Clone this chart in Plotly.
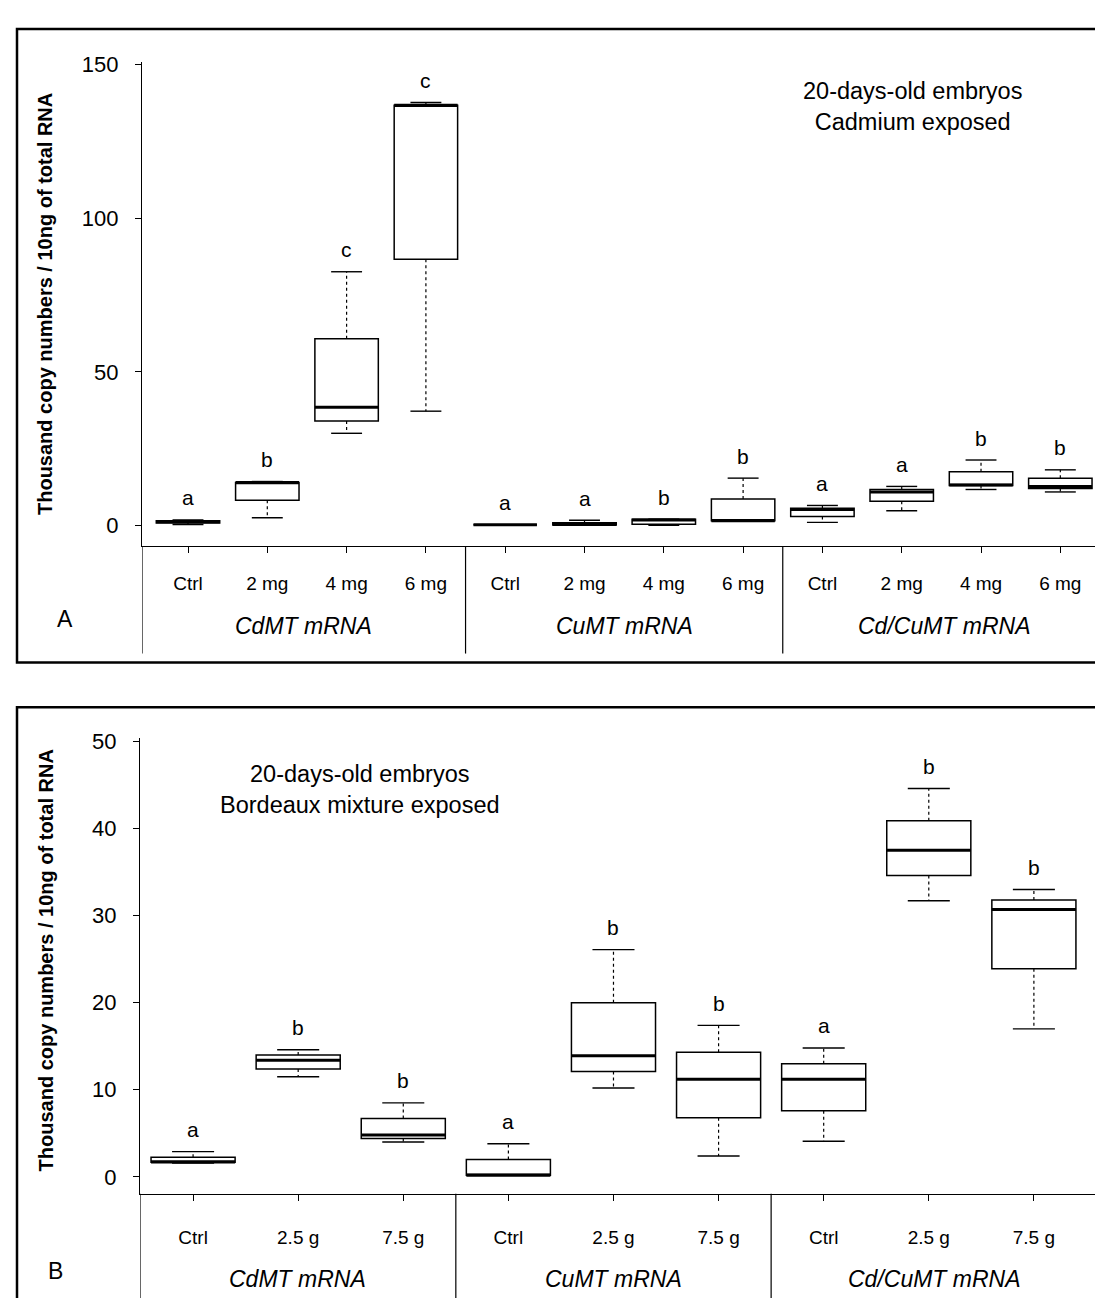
import plotly.graph_objects as go

# Panel A: cadmium exposure, 12 boxes (3 genes x 4 doses)
doses_a = ["Ctrl", "2 mg", "4 mg", "6 mg"] * 3
low_a = [0.3, 2.5, 30.0, 37.2, 0.2, 0.1, 0.0, 1.5, 1.0, 4.8, 11.7, 10.9]
q1_a = [0.8, 8.2, 34.0, 86.7, 0.2, 0.1, 0.4, 1.5, 2.9, 7.9, 13.0, 12.0]
med_a = [1.2, 14.0, 38.5, 136.8, 0.2, 0.3, 1.8, 1.5, 5.2, 10.9, 13.2, 12.7]
q3_a = [1.5, 14.0, 60.8, 136.8, 0.2, 0.9, 2.0, 8.6, 5.6, 11.7, 17.5, 15.4]
high_a = [1.8, 14.3, 82.6, 137.7, 0.2, 1.7, 2.0, 15.4, 6.5, 12.7, 21.3, 18.1]
letters_a = ["a", "b", "c", "c", "a", "a", "b", "b", "a", "a", "b", "b"]

# Panel B: Bordeaux mixture exposure, 9 boxes (3 genes x 3 doses)
doses_b = ["Ctrl", "2.5 g", "7.5 g"] * 3
low_b = [1.6, 11.5, 4.0, 0.2, 10.2, 2.4, 4.1, 31.7, 17.0]
q1_b = [1.67, 12.4, 4.4, 0.2, 12.1, 6.8, 7.6, 34.6, 23.9]
med_b = [1.7, 13.4, 4.8, 0.2, 13.9, 11.2, 11.2, 37.5, 30.7]
q3_b = [2.25, 14.0, 6.7, 2.0, 20.0, 14.3, 13.0, 40.9, 31.8]
high_b = [2.9, 14.6, 8.5, 3.8, 26.1, 17.4, 14.8, 44.6, 33.0]
letters_b = ["a", "b", "b", "a", "b", "b", "a", "b", "b"]

genes = ["CdMT mRNA", "CuMT mRNA", "Cd/CuMT mRNA"]

W, H = 1103, 1298
FONT = "Liberation Sans, Arial, sans-serif"


def px_x(p):
    return p / W


def px_y(p):
    return 1 - p / H


fig = go.Figure()


def add_panel(xa, ya, low, q1, med, q3, high, letters, cap, halfbox):
    n = len(med)
    xs = list(range(n))
    fig.add_trace(go.Box(
        x=xs, q1=q1, median=med, q3=q3, lowerfence=q1, upperfence=q3,
        width=halfbox * 2, whiskerwidth=0, fillcolor="white",
        line=dict(color="black", width=1.5), boxpoints=False,
        xaxis=xa, yaxis=ya, showlegend=False, hoverinfo="skip"))
    wx, wy, cx, cy, mx, my = [], [], [], [], [], []
    for i in xs:
        wx += [i, i, None, i, i, None]
        wy += [q3[i], high[i], None, q1[i], low[i], None]
        cx += [i - cap, i + cap, None, i - cap, i + cap, None]
        cy += [high[i], high[i], None, low[i], low[i], None]
        mx += [i - halfbox, i + halfbox, None]
        my += [med[i], med[i], None]
    fig.add_trace(go.Scatter(x=wx, y=wy, mode="lines", xaxis=xa, yaxis=ya,
                             line=dict(color="black", width=1.2, dash="dot"),
                             showlegend=False, hoverinfo="skip"))
    fig.add_trace(go.Scatter(x=cx, y=cy, mode="lines", xaxis=xa, yaxis=ya,
                             line=dict(color="black", width=1.4),
                             showlegend=False, hoverinfo="skip"))
    fig.add_trace(go.Scatter(x=mx, y=my, mode="lines", xaxis=xa, yaxis=ya,
                             line=dict(color="black", width=3),
                             showlegend=False, hoverinfo="skip"))
    for i in xs:
        fig.add_annotation(x=i, y=high[i], xref=xa, yref=ya, text=letters[i],
                           showarrow=False, yanchor="middle", yshift=22,
                           font=dict(size=21, family=FONT, color="black"))


add_panel("x", "y", low_a, q1_a, med_a, q3_a, high_a, letters_a, 0.195, 0.4)
add_panel("x2", "y2", low_b, q1_b, med_b, q3_b, high_b, letters_b, 0.2, 0.4)

xr_a = [-0.58, 11.576]
xr_b = [-0.505, 8.61]

axis_common = dict(showline=True, linecolor="black", linewidth=1.2,
                   showgrid=False, zeroline=False, ticks="outside",
                   ticklen=6, tickcolor="black")

fig.update_layout(
    width=W, height=H, margin=dict(l=0, r=0, t=0, b=0),
    paper_bgcolor="white", plot_bgcolor="white",
    font=dict(family=FONT, color="black"),
    xaxis=dict(domain=[px_x(134), px_x(1098)], range=xr_a, anchor="y",
               tickvals=list(range(12)), ticktext=doses_a,
               tickfont=dict(size=19), ticklabelstandoff=14, **axis_common),
    yaxis=dict(domain=[px_y(533), px_y(45)], range=[-6.8, 151], anchor="x",
               tickvals=[0, 50, 100, 150], tickfont=dict(size=22),
               ticklabelstandoff=12, **axis_common),
    xaxis2=dict(domain=[px_x(132), px_x(1090)], range=xr_b, anchor="y2",
                tickvals=list(range(9)), ticktext=doses_b,
                tickfont=dict(size=19), ticklabelstandoff=20, **axis_common),
    yaxis2=dict(domain=[px_y(1185), px_y(726)], range=[-1.94, 50.4], anchor="x2",
                tickvals=[0, 10, 20, 30, 40, 50], tickfont=dict(size=22),
                ticklabelstandoff=12, **axis_common),
)

# frames around each panel
fig.add_shape(type="rect", xref="paper", yref="paper",
              x0=px_x(9), x1=px_x(1101), y0=px_y(650), y1=px_y(12),
              line=dict(color="black", width=2.5))
fig.add_shape(type="rect", xref="paper", yref="paper",
              x0=px_x(9), x1=px_x(1101), y0=-0.05, y1=px_y(695),
              line=dict(color="black", width=2.5))

# table-like vertical separators below the x axes
for xv in [xr_a[0], 3.5, 7.5, xr_a[1]]:
    fig.add_shape(type="line", xref="x", yref="paper", x0=xv, x1=xv,
                  y0=px_y(641), y1=px_y(533), line=dict(color="black", width=1.2))
for xv in [xr_b[0], 2.5, 5.5, xr_b[1]]:
    fig.add_shape(type="line", xref="x2", yref="paper", x0=xv, x1=xv,
                  y0=px_y(1293), y1=px_y(1185), line=dict(color="black", width=1.2))


def label(x, y, text, size, xref="paper", angle=0):
    fig.add_annotation(x=x, y=y, xref=xref, yref="paper", text=text,
                       textangle=angle, showarrow=False, align="center",
                       xanchor="center", yanchor="middle",
                       font=dict(size=size, family=FONT, color="black"))


# gene group labels
grp_a = [(xr_a[0] + 3.5) / 2, 5.5, (7.5 + xr_a[1]) / 2]
grp_b = [(xr_b[0] + 2.5) / 2, 4.0, (5.5 + xr_b[1]) / 2]
for g, xv in zip(genes, grp_a):
    label(xv, px_y(613), f"<i>{g}</i>", 23, xref="x")
for g, xv in zip(genes, grp_b):
    label(xv, px_y(1271), f"<i>{g}</i>", 23, xref="x2")

ytitle = "<b>Thousand copy numbers / 10ng of total RNA</b>"
label(px_x(37), px_y(289), ytitle, 20, angle=-90)
label(px_x(38), px_y(950), ytitle, 20, angle=-90)

label(px_x(57), px_y(606), "A", 23)
label(px_x(47), px_y(1263), "B", 23)

label(px_x(904), px_y(90), "20-days-old embryos<br>Cadmium exposed", 23.5)
label(px_x(352), px_y(778), "20-days-old embryos<br>Bordeaux mixture exposed", 23.5)

fig.write_html("out.html")
